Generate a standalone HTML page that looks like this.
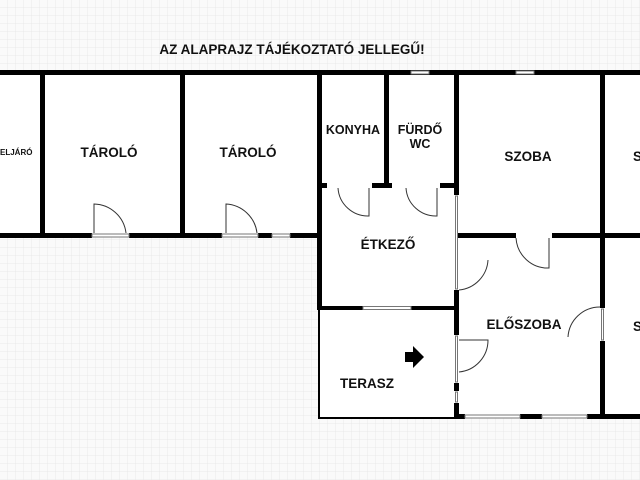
<!DOCTYPE html>
<html><head><meta charset="utf-8"><style>
html,body{margin:0;padding:0;background:#fafafa;}
svg{display:block}
text{font-family:"Liberation Sans",sans-serif;font-weight:bold;fill:#111}
</style></head><body>
<svg width="640" height="480" viewBox="0 0 640 480" xmlns="http://www.w3.org/2000/svg">
<defs>
<pattern id="g" width="8" height="8" patternUnits="userSpaceOnUse">
<path d="M8 0V8M0 8H8" stroke="#e4e4e4" stroke-width="0.7" fill="none"/>
</pattern>
</defs>
<rect width="640" height="480" fill="#fafafa"/>
<rect width="640" height="480" fill="url(#g)"/>
<rect x="0" y="72" width="319" height="163" fill="#fff"/>
<rect x="319" y="72" width="321" height="236" fill="#fff"/>
<rect x="319" y="305" width="137" height="113" fill="#fff"/>
<rect x="456" y="235" width="184" height="182" fill="#fff"/>
<text x="292" y="54" font-size="13.5" text-anchor="middle">AZ ALAPRAJZ TÁJÉKOZTATÓ JELLEGŰ!</text>
<g fill="#000">
<rect x="0" y="70" width="640" height="5"/>
<rect x="40" y="70" width="5" height="167"/>
<rect x="180" y="70" width="5" height="167"/>
<rect x="0" y="233" width="92" height="5"/>
<rect x="129" y="233" width="93" height="5"/>
<rect x="258" y="233" width="14" height="5"/>
<rect x="290" y="233" width="30" height="5"/>
<rect x="317" y="70" width="5" height="240"/>
<rect x="384" y="70" width="5" height="117"/>
<rect x="454" y="70" width="5" height="125"/>
<rect x="454" y="290" width="5" height="45"/>
<rect x="454" y="383" width="5" height="8"/>
<rect x="454" y="403" width="5" height="16"/>
<rect x="600" y="70" width="5" height="175"/>
<rect x="600" y="240" width="5" height="68"/>
<rect x="600" y="341" width="5" height="77"/>
<rect x="317" y="183" width="10" height="5"/>
<rect x="372" y="183" width="20" height="5"/>
<rect x="440" y="183" width="16" height="5"/>
<rect x="456" y="233" width="60" height="5"/>
<rect x="552" y="233" width="88" height="5"/>
<rect x="319" y="306" width="44" height="4"/>
<rect x="411" y="306" width="47" height="4"/>
<rect x="456" y="414" width="9" height="5"/>
<rect x="520" y="414" width="22" height="5"/>
<rect x="587" y="414" width="53" height="5"/>
</g>
<g fill="#fff" stroke="#777" stroke-width="1">
<rect x="411" y="71" width="18" height="3"/>
<rect x="516" y="71" width="18" height="3"/>
<rect x="363" y="306.5" width="48" height="3"/>
<rect x="465" y="415" width="55" height="3"/>
<rect x="542" y="415" width="45" height="3"/>
<rect x="455.5" y="196" width="2" height="93"/>
<rect x="455.5" y="336" width="2" height="46"/>
<rect x="455.5" y="392" width="2" height="10"/>
<rect x="601.5" y="309" width="2" height="31"/>
<rect x="92" y="234" width="37" height="3"/>
<rect x="222" y="234" width="36" height="3"/>
<rect x="272" y="234" width="18" height="3"/>
</g>
<g stroke="#000" stroke-width="2" fill="none">
<path d="M319 310V418H456"/>
</g>
<g stroke="#333" stroke-width="1" fill="none">
<path d="M94 233V204A33 33 0 0 1 126 233"/>
<path d="M226 233V204A33 33 0 0 1 257 233"/>
<path d="M369 188V216A30 30 0 0 1 338 188"/>
<path d="M437 188V216A30 30 0 0 1 406 188"/>
<path d="M549 238V268A32 32 0 0 1 516 238"/>
<path d="M459 290A32 32 0 0 0 488 260"/>
<path d="M459 340H488A32 32 0 0 1 459 372"/>
<path d="M600 307A32 32 0 0 0 568 337"/>
</g>
<path d="M405 352h8v-6l11 11-11 11v-6h-8z" fill="#000"/>
<g font-size="13.5">
<text x="109" y="157" text-anchor="middle">TÁROLÓ</text>
<text x="248" y="157" text-anchor="middle">TÁROLÓ</text>
<text x="353" y="134" text-anchor="middle" font-size="12.5">KONYHA</text>
<text x="420" y="134" text-anchor="middle" font-size="12.5">FÜRDŐ</text>
<text x="420" y="148" text-anchor="middle" font-size="12.5">WC</text>
<text x="528" y="161" text-anchor="middle">SZOBA</text>
<text x="388" y="249" text-anchor="middle">ÉTKEZŐ</text>
<text x="524" y="329" text-anchor="middle">ELŐSZOBA</text>
<text x="367" y="388" text-anchor="middle">TERASZ</text>
<text x="633" y="161">S</text>
<text x="633" y="331">S</text>
</g>
<text x="0" y="155" font-size="8">ELJÁRÓ</text>
</svg>
</body></html>
